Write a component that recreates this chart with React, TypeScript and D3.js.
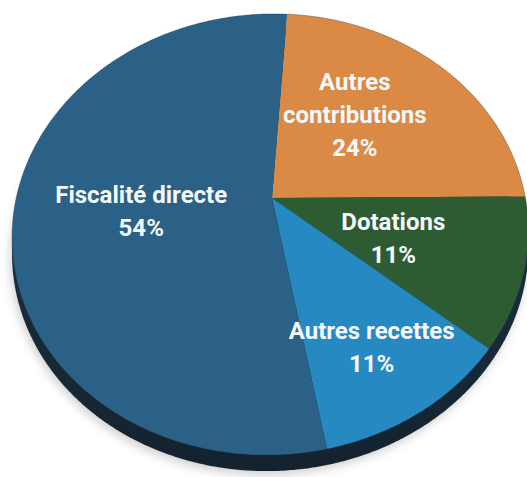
import React from 'react';
import * as d3 from 'd3';

// Répartition des recettes (%)
const categories = ['Autres contributions', 'Dotations', 'Autres recettes', 'Fiscalité directe'];
const shares = [24, 11, 11, 54];
const labelLines = [['Autres', 'contributions'], ['Dotations'], ['Autres recettes'], ['Fiscalité directe']];
const sliceColors = ['#da8a44', '#2d5c33', '#2789c2', '#2b6186'];

const WIDTH = 527;
const HEIGHT = 477;

// Tilted disc: unit circle -> screen through a simple perspective projection
const view = { cx: 272, cy: 198, ax: 254.4, skewX: -10.5, skewY: 6, ay: 214.5, persp: -0.1655, startDeg: 1.6 };
const sideDepth = 16;
// label anchor on the disc: radius (unit circle) and angular nudge (degrees)
const labelPlacement = [
  { r: 0.54, turn: -7 },
  { r: 0.5, turn: 2 },
  { r: 0.72, turn: 1 },
  { r: 0.51, turn: -2.5 },
];
const lineHeight = 33;
const fontSize = 24;

function project(angle: number, r: number): [number, number] {
  const u = r * Math.sin(angle);
  const v = -r * Math.cos(angle);
  const w = 1 + view.persp * v;
  return [view.cx + (view.ax * u + view.skewX * v) / w, view.cy + (view.ay * v + view.skewY * u) / w];
}

const line = d3.line<[number, number]>().x((p) => p[0]).y((p) => p[1]);

function rimPoints(a0: number, a1: number, dy = 0): [number, number][] {
  const n = Math.max(2, Math.ceil(((a1 - a0) * 180) / Math.PI / 0.5));
  return d3.range(n + 1).map((i) => {
    const [x, y] = project(a0 + ((a1 - a0) * i) / n, 1);
    return [x, y + dy] as [number, number];
  });
}

export default function App() {
  const start = (view.startDeg * Math.PI) / 180;
  const arcs = d3
    .pie<number>()
    .sort(null)
    .value((d) => d)
    .startAngle(start)
    .endAngle(start + 2 * Math.PI)(shares);

  const outline = line(rimPoints(0, 2 * Math.PI))! + 'Z';
  const sideOutline = line(rimPoints(0, 2 * Math.PI, sideDepth))! + 'Z';
  const centre = project(0, 0);

  return (
    <svg
      width={WIDTH}
      height={HEIGHT}
      viewBox={`0 0 ${WIDTH} ${HEIGHT}`}
      style={{ position: 'absolute', left: 0, top: 0, background: '#ffffff' }}
    >
      <defs>
        <filter id="soft" x="-20%" y="-20%" width="140%" height="140%">
          <feGaussianBlur stdDeviation="5" />
        </filter>
        <linearGradient id="side" x1="0" y1="0" x2="0" y2="1">
          <stop offset="0" stopColor="#1f3a50" />
          <stop offset="1" stopColor="#14222e" />
        </linearGradient>
      </defs>

      {/* soft shadow and disc thickness */}
      <path d={sideOutline} fill="#9a9a9a" opacity={0.45} filter="url(#soft)" transform="translate(-2,4)" />
      <path d={sideOutline} fill="url(#side)" />

      {/* top face slices */}
      {arcs.map((a, i) => {
        const pts: [number, number][] = [centre, ...rimPoints(a.startAngle, a.endAngle)];
        return <path key={categories[i]} d={line(pts)! + 'Z'} fill={sliceColors[i]} />;
      })}
      <path d={outline} fill="none" stroke="#1d3447" strokeOpacity={0.35} strokeWidth={1} />

      {/* data labels */}
      {arcs.map((a, i) => {
        const { r, turn } = labelPlacement[i];
        const mid = (a.startAngle + a.endAngle) / 2 + (turn * Math.PI) / 180;
        const [lx, ly] = project(mid, r);
        const lines = [...labelLines[i], `${shares[i]}%`];
        const top = ly - ((lines.length - 1) * lineHeight) / 2 + fontSize * 0.355;
        return (
          <text
            key={`lbl-${categories[i]}`}
            x={lx}
            textAnchor="middle"
            fill="#f4f8fb"
            fontFamily="Roboto, 'Liberation Sans', sans-serif"
            fontWeight={700}
            fontSize={fontSize}
          >
            {lines.map((t, j) => (
              <tspan key={j} x={lx} y={top + j * lineHeight}>
                {t}
              </tspan>
            ))}
          </text>
        );
      })}
    </svg>
  );
}
